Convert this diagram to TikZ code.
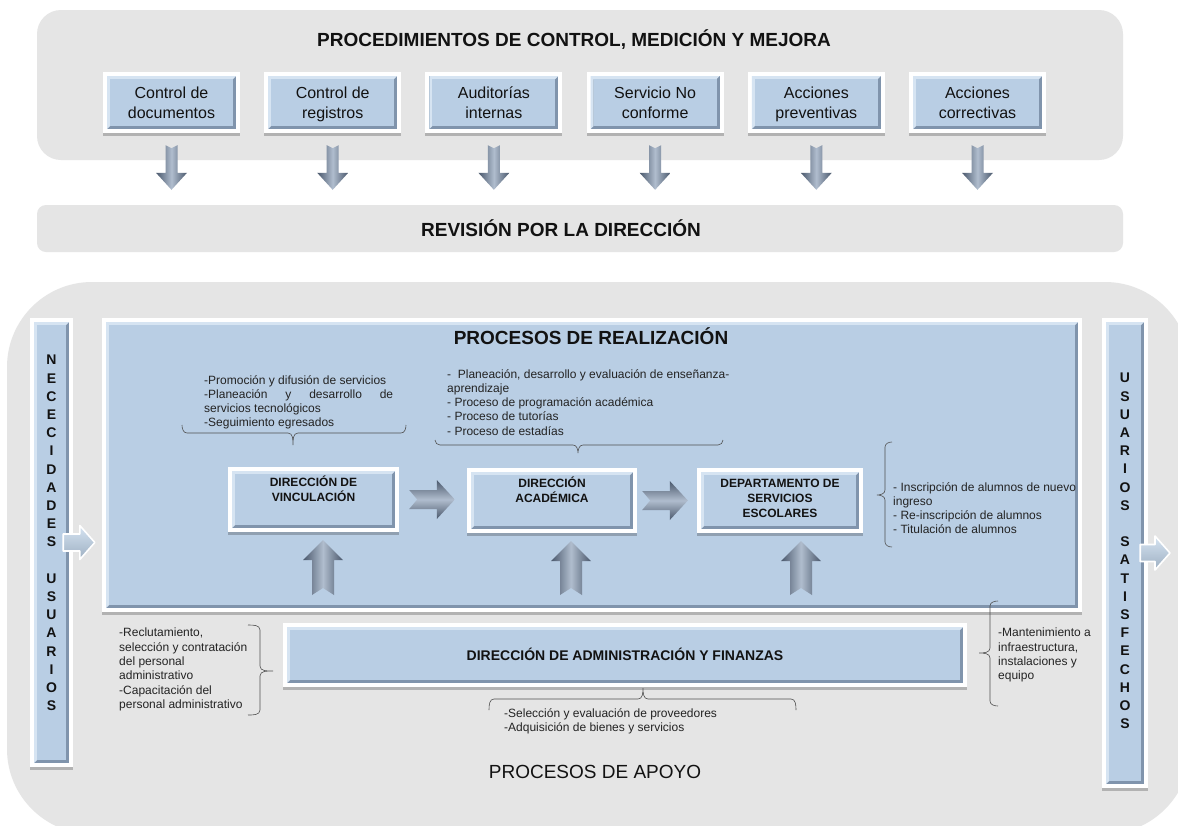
\documentclass[tikz,border=0pt]{standalone}
\usepackage{fontspec}
\setmainfont{Liberation Sans}
\usetikzlibrary{shadows,fit,calc}
\definecolor{panelgrey}{RGB}{229,229,229}
\definecolor{boxblue}{RGB}{185,206,228}
\definecolor{bevlight}{RGB}{214,228,242}
\definecolor{bevdark}{RGB}{128,148,172}
\definecolor{arrdark}{RGB}{74,88,108}
\definecolor{arrlight}{RGB}{176,189,206}
\definecolor{bracegrey}{RGB}{80,80,80}
\definecolor{txtdark}{RGB}{18,18,18}
\definecolor{txtsmall}{RGB}{35,35,35}
\tikzset{
  frameshadow/.style={fill=white, drop shadow={shadow xshift=0pt, shadow yshift=-2.5pt, opacity=0.22, fill=black}},
  arrowv/.style={left color=arrdark, right color=arrdark, middle color=arrlight},
  arrowh/.style={top color=arrdark, bottom color=arrdark, middle color=arrlight},
  smallarrow/.style={draw=white, line width=1.6pt, top color=bevlight, bottom color=boxblue!85!black, line join=round},
  bracestyle/.style={draw=bracegrey, line width=0.6pt},
  panel/.style={fill=panelgrey, inner sep=0pt},
  bigtitle/.style={font=\bfseries\fontsize{19}{22}\selectfont, text=txtdark, inner sep=0pt, anchor=base},
  boxtxt/.style={font=\fontsize{16}{20}\selectfont, text=txtdark, align=center, inner sep=0pt, anchor=north},
  procbox/.style={font=\bfseries\fontsize{12}{15}\selectfont, text=txtdark, align=center, inner sep=0pt, anchor=north},
  smalltxt/.style={font=\fontsize{12}{14.3}\selectfont, text=txtsmall, align=left, inner sep=0pt, anchor=north west},
  vletters/.style={font=\bfseries\fontsize{14}{18.2}\selectfont, text=txtdark, align=center, inner sep=0pt},
}
\newcommand\bluebox[5]{%
  \path[frameshadow] (#2,#3) rectangle (#4,#5);
  \fill[bevdark] ({#2+4},{#3+4}) rectangle ({#4-4},{#5-4});
  \fill[bevlight] ({#2+4},{#5-4}) -- ({#2+4},{#3+4}) -- ({#4-4},{#3+4}) -- ({#4-7},{#3+7}) -- ({#2+7},{#3+7}) -- ({#2+7},{#5-7}) -- cycle;
  \fill[boxblue] ({#2+7},{#3+7}) rectangle ({#4-7},{#5-7});
  \node[fit={(#2,#3) (#4,#5)}, inner sep=0pt] (#1) {};
}
\newcommand\downarr[2]{%
  \path[arrowv] let \p1=(#1.south), \p2=(#2.north) in
   (\x1-6pt,\y1-12pt) -- (\x1,\y1-15pt) -- (\x1+6pt,\y1-12pt) -- (\x1+6pt,\y2+32pt) -- (\x1+15.5pt,\y2+32pt) -- (\x1,\y2+15pt) -- (\x1-15.5pt,\y2+32pt) -- (\x1-6pt,\y2+32pt) -- cycle;
}
\newcommand\uparr[2]{%
  \path[arrowv] let \p1=(#1), \p2=(#2.south) in
   (\x1-11pt,\y1) -- (\x1,\y1+7pt) -- (\x1+11pt,\y1) -- (\x1+11pt,\y2-28pt) -- (\x1+20pt,\y2-28pt) -- (\x1,\y2-8pt) -- (\x1-20pt,\y2-28pt) -- (\x1-11pt,\y2-28pt) -- cycle;
}
\newcommand\rightarr[4]{%
  \path[arrowh] let \p1=(#1.east), \p2=(#2.west) in
   (\x1+#3,\y1+9.5pt) -- (\x2-#4-18pt,\y1+9.5pt) -- (\x2-#4-18pt,\y1+19.5pt) -- (\x2-#4,\y1) -- (\x2-#4-18pt,\y1-19.5pt) -- (\x2-#4-18pt,\y1-9.5pt) -- (\x1+#3,\y1-9.5pt) -- (\x1+#3+8pt,\y1) -- cycle;
}
\newcommand\barrow[2]{%
  \path[smallarrow] let \p1=(#1), \p2=(#2) in
   (\x1,\y1+8.5pt) -- (\x2-15pt,\y1+8.5pt) -- (\x2-15pt,\y1+17pt) -- (\x2,\y1) -- (\x2-15pt,\y1-17pt) -- (\x2-15pt,\y1-8.5pt) -- (\x1,\y1-8.5pt) -- cycle;
}
\begin{document}
\begin{tikzpicture}[x=1pt,y=-1pt]
\useasboundingbox (0,0) rectangle (1178,825);
\fill[white] (0,0) rectangle (1178,825);
% panels
\begin{scope}
\clip (0,0) rectangle (1178,825);
\node[panel, fit={(7,282) (1190,834)}, rounded corners=85pt] (apoyo) {};
\end{scope}
\node[panel, fit={(37,10) (1123,160)}, rounded corners=24pt] (ctrl) {};
\node[panel, fit={(37,205) (1123,252)}, rounded corners=9pt] (rev) {};
\node[bigtitle] at (574,46.8) {PROCEDIMIENTOS DE CONTROL, MEDICIÓN Y MEJORA};
\node[bigtitle] at (561,236.8) {REVISIÓN POR LA DIRECCIÓN};
% top boxes
\bluebox{t1}{103}{72}{240}{133}
\bluebox{t2}{264.2}{72}{401.2}{133}
\bluebox{t3}{425.4}{72}{562.4}{133}
\bluebox{t4}{586.6}{72}{723.6}{133}
\bluebox{t5}{747.8}{72}{884.8}{133}
\bluebox{t6}{909}{72}{1046}{133}
\node[boxtxt] at ([yshift=-15pt]t1.north) {Control de\\documentos};
\node[boxtxt] at ([yshift=-15pt]t2.north) {Control de\\registros};
\node[boxtxt] at ([yshift=-15pt]t3.north) {Auditorías\\internas};
\node[boxtxt] at ([yshift=-15pt]t4.north) {Servicio No\\conforme};
\node[boxtxt] at ([yshift=-15pt]t5.north) {Acciones\\preventivas};
\node[boxtxt] at ([yshift=-15pt]t6.north) {Acciones\\correctivas};
\foreach \t in {t1,t2,t3,t4,t5,t6} { \downarr{\t}{rev} }
% side bars and realization box
\bluebox{nec}{30}{318}{73}{767}
\bluebox{sat}{1102}{318}{1148}{788}
\bluebox{real}{102}{318}{1082}{612}
\node[vletters] at (51.5,533) {N\\E\\C\\E\\C\\I\\D\\A\\D\\E\\S\\[18.2pt]U\\S\\U\\A\\R\\I\\O\\S};
\node[vletters] at (1125,551) {U\\S\\U\\A\\R\\I\\O\\S\\[18.2pt]S\\A\\T\\I\\S\\F\\E\\C\\H\\O\\S};
\coordinate (satout) at (1170,553);
\barrow{[xshift=-10pt]nec.east}{[xshift=-7pt]real.west}
\barrow{[xshift=-8pt]sat.east}{satout}
\node[bigtitle] at (591,344.8) {PROCESOS DE REALIZACIÓN};
% process boxes
\bluebox{vinc}{228}{467}{399}{532}
\bluebox{acad}{467}{468}{637}{533}
\bluebox{dept}{697}{468}{863}{533}
\node[procbox] at ([yshift=-9pt]vinc.north) {DIRECCIÓN DE\\VINCULACIÓN};
\node[procbox] at ([yshift=-9pt]acad.north) {DIRECCIÓN\\ACADÉMICA};
\node[procbox] at ([yshift=-11pt]dept.north) {DEPARTAMENTO DE\\SERVICIOS\\ESCOLARES};
\rightarr{vinc}{acad}{10pt}{12pt}
\rightarr{acad}{dept}{5pt}{9pt}
\coordinate (u1) at (323,595);
\coordinate (u2) at (571,595);
\coordinate (u3) at (801,595);
\uparr{u1}{vinc}
\uparr{u2}{acad}
\uparr{u3}{dept}
% text blocks and braces in realization box
\node[smalltxt] (txv) at (204,375) {-Promoción y difusión de servicios\\\makebox[189pt][s]{-Planeación y desarrollo de}\\servicios tecnológicos\\-Seguimiento egresados};
\draw[bracestyle] (182,425) to[out=-90,in=180] (187,433) -- (288,433) to[out=0,in=90] (293,445) to[out=90,in=180] (298,433) -- (401,433) to[out=0,in=-90] (406,425);
\node[smalltxt] (txa) at (447,369) {-\ \ Planeación, desarrollo y evaluación de enseñanza-\\aprendizaje\\- Proceso de programación académica\\- Proceso de tutorías\\- Proceso de estadías};
\draw[bracestyle] (435,440) to[out=-90,in=180] (440,445) -- (573,445) to[out=0,in=90] (578,453) to[out=90,in=180] (583,445) -- (718,445) to[out=0,in=-90] (723,440);
\node[smalltxt] (txd) at (893,482) {- Inscripción de alumnos de nuevo\\ingreso\\- Re-inscripción de alumnos\\- Titulación de alumnos};
\draw[bracestyle] (892,442) to[out=180,in=90] (885,447) -- (885,490) to[out=-90,in=0] (877,495) to[out=0,in=90] (885,500) -- (885,542) to[out=-90,in=180] (892,547);
% administration
\bluebox{admin}{283}{623}{967}{687}
\node[font=\bfseries\fontsize{14}{17}\selectfont, text=txtdark, anchor=base, inner sep=0pt] at (625,660) {DIRECCIÓN DE ADMINISTRACIÓN Y FINANZAS};
\node[smalltxt] (txl) at (119,628) {-Reclutamiento,\\selección y contratación\\del personal\\administrativo\\-Capacitación del\\personal administrativo};
\draw[bracestyle] (248,625) to[out=0,in=90] (260,630) -- (260,666) to[out=-90,in=180] (273,671) to[out=180,in=90] (260,676) -- (260,710) to[out=-90,in=0] (248,715);
\node[smalltxt] (txr) at (998,628) {-Mantenimiento a\\infraestructura,\\instalaciones y\\equipo};
\draw[bracestyle] (998,601) to[out=180,in=90] (990,606) -- (990,648) to[out=-90,in=0] (979,653) to[out=0,in=90] (990,658) -- (990,701) to[out=-90,in=180] (998,706);
\node[smalltxt] (txb) at (504,708) {-Selección y evaluación de proveedores\\-Adquisición de bienes y servicios};
\draw[bracestyle] (489,710) to[out=90,in=180] (494,699) -- (638,699) to[out=0,in=-90] (643,688) to[out=-90,in=180] (648,699) -- (791,699) to[out=0,in=90] (796,710);
\node[font=\fontsize{19}{22}\selectfont, text=txtdark, anchor=base, inner sep=0pt] at (595,778.8) {PROCESOS DE APOYO};
\end{tikzpicture}
\end{document}
